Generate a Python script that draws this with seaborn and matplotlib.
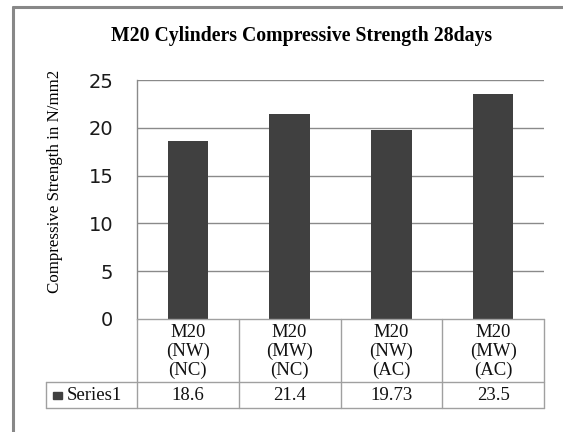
import matplotlib
matplotlib.use("Agg")
import matplotlib.pyplot as plt
import matplotlib.transforms as mtransforms
from matplotlib.patches import Rectangle
from matplotlib.lines import Line2D
import seaborn as sns
import pandas as pd

categories = ["M20\n(NW)\n(NC)", "M20\n(MW)\n(NC)", "M20\n(NW)\n(AC)", "M20\n(MW)\n(AC)"]
value_labels = ["18.6", "21.4", "19.73", "23.5"]
values = [18.6, 21.4, 19.73, 23.5]
series_name = "Series1"
title = "M20 Cylinders Compressive Strength 28days"
ylabel = "Compressive Strength in N/mm2"
yticks = [0, 5, 10, 15, 20, 25]

sns.set_style("white")
plt.rcParams["font.family"] = ["DejaVu Sans"]

W, H = 563, 432
fig = plt.figure(figsize=(W / 100, H / 100), dpi=100)

def fx(px):
    return px / W

def fy(py):
    return 1 - py / H

ax_l, ax_r, ax_t, ax_b = 137, 544, 80, 319
ax = fig.add_axes([fx(ax_l), fy(ax_b), fx(ax_r - ax_l), (ax_b - ax_t) / H])

df = pd.DataFrame({"cat": categories, "val": values})
sns.barplot(data=df, x="cat", y="val", color="#404040", width=0.4,
            saturation=1, ax=ax, edgecolor="none")

ax.set_xlim(-0.5, len(categories) - 0.5)
ax.set_ylim(0, 25)
ax.set_yticks(yticks)
ax.set_yticklabels([str(t) for t in yticks], fontsize=14, color="#1a1a1a")
ax.tick_params(axis="y", length=0, pad=17)
ax.set_xticks([])
ax.set_xlabel("")
ax.set_ylabel("")
for t in yticks[1:]:
    ax.axhline(t, color="#8a8a8a", lw=1, zorder=0)
for s in ["top", "right", "bottom"]:
    ax.spines[s].set_visible(False)
ax.spines["left"].set_color("#8a8a8a")
ax.spines["left"].set_linewidth(1)

serif = ["Liberation Serif", "DejaVu Serif"]

# title and y label
fig.text(fx(302), fy(36), title, ha="center", va="center", fontsize=14.2,
         fontweight="bold", family=serif, color="#000000")
fig.text(fx(55), fy(181), ylabel, ha="center", va="center", rotation=90,
         fontsize=12.2, family=serif, color="#000000")

# data table below the axes
row1_b, row2_b = 382, 408
left_cell = 46
gray = "#a0a0a0"
trans = mtransforms.blended_transform_factory(ax.transData, fig.transFigure)

def hline(x0, x1, y):
    fig.add_artist(Line2D([fx(x0), fx(x1)], [fy(y), fy(y)], color=gray, lw=1))

def vline(x, y0, y1):
    fig.add_artist(Line2D([fx(x), fx(x)], [fy(y0), fy(y1)], color=gray, lw=1))

hline(ax_l, ax_r, ax_b)
hline(left_cell, ax_r, row1_b)
hline(left_cell, ax_r, row2_b)
vline(left_cell, row1_b, row2_b)
n = len(categories)
colw = (ax_r - ax_l) / n
for i in range(n + 1):
    vline(ax_l + i * colw, ax_b, row2_b)

for i, (c, v) in enumerate(zip(categories, value_labels)):
    fig.text(0, fy((ax_b + row1_b) / 2 + 1), c, transform=trans, ha="center",
             va="center", fontsize=13.5, family=serif, color="#111111",
             linespacing=1.15)
    fig.texts[-1].set_x(i)
    fig.text(0, fy((row1_b + row2_b) / 2 + 1), v, transform=trans, ha="center",
             va="center", fontsize=13.5, family=serif, color="#111111")
    fig.texts[-1].set_x(i)

fig.add_artist(Rectangle((fx(53), fy(399)), fx(9), 7 / H, color="#404040",
                         transform=fig.transFigure))
fig.text(fx(67), fy((row1_b + row2_b) / 2 + 1), series_name, ha="left",
         va="center", fontsize=13.5, family=serif, color="#111111")

# outer chart border (top and left visible)
fig.add_artist(Line2D([fx(13), fx(13)], [fy(7), 0], color="#888888", lw=2.2))
fig.add_artist(Line2D([fx(13), 1], [fy(7), fy(7)], color="#888888", lw=2.2))

fig.savefig("out.png", dpi=100)
